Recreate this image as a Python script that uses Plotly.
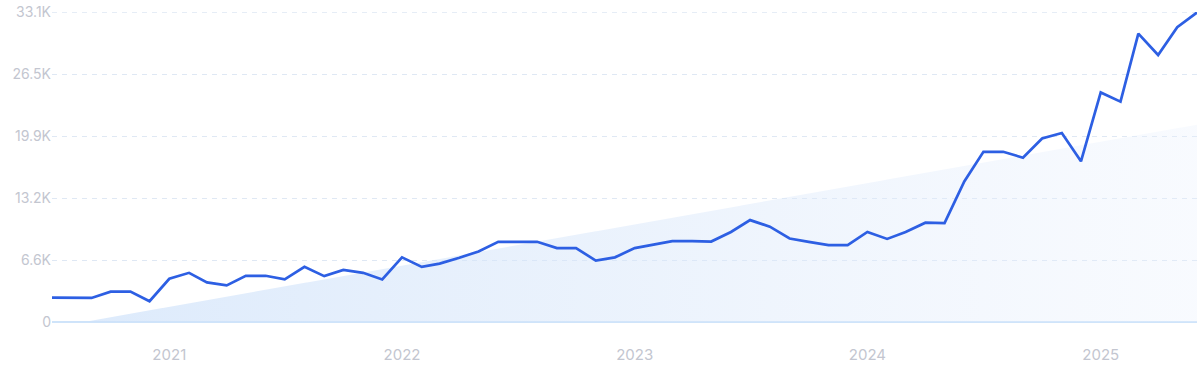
import pandas as pd
import numpy as np
import plotly.graph_objects as go

# Monthly data, Jul 2020 .. Jun 2025
months = pd.date_range("2020-07-01", "2025-06-01", freq="MS")
values = [
    2610, 2610, 2570, 3245, 3245, 2220,            # Jul-Dec 2020
    4620, 5255, 4230, 3910, 4940, 4940,            # Jan-Jun 2021
    4560, 5900, 4900, 5570, 5255, 4550,            # Jul-Dec 2021
    6910, 5890, 6240, 6870, 7540, 8570,            # Jan-Jun 2022
    8570, 8570, 7900, 7900, 6560, 6910,            # Jul-Dec 2022
    7900, 8250, 8640, 8640, 8600, 9620,            # Jan-Jun 2023
    10890, 10190, 8920, 8570, 8220, 8220,          # Jul-Dec 2023
    9620, 8880, 9620, 10610, 10560, 15020,         # Jan-Jun 2024
    18190, 18190, 17560, 19610, 20200, 17170,      # Jul-Dec 2024
    24530, 23550, 30820, 28530, 31510, 33080,      # Jan-Jun 2025
]

# Trend line endpoints (value at first and last month), clipped at zero
trend_start = -600
trend_end = 21080

y_tickvals = [0, 6620, 13240, 19860, 26480, 33100]
y_ticktext = ["0", "6.6K", "13.2K", "19.9K", "26.5K", "33.1K"]
x_tickvals = ["2021-01-01", "2022-01-01", "2023-01-01", "2024-01-01", "2025-01-01"]
x_ticktext = ["2021", "2022", "2023", "2024", "2025"]

GRID = "#dfe8f4"

days = pd.date_range(months[0], months[-1], freq="D")
t = np.linspace(0.0, 1.0, len(days))
trend = np.clip(trend_start + (trend_end - trend_start) * t, 0, None)

fig = go.Figure()
fig.add_trace(go.Scatter(
    x=days, y=trend, mode="lines", line=dict(width=0),
    fill="tozeroy",
    fillgradient=dict(type="horizontal",
                      colorscale=[[0, "rgba(205,225,250,0.7)"],
                                  [0.5, "rgba(215,230,250,0.5)"],
                                  [1, "rgba(232,240,253,0.3)"]]),
    hoverinfo="skip", showlegend=False,
))
fig.add_trace(go.Scatter(
    x=months, y=values, mode="lines",
    line=dict(color="#2d5fe3", width=2.7),
    cliponaxis=False, showlegend=False,
))

# top gridline (plotly hides gridlines lying on the plot edge)
fig.add_shape(type="line", xref="paper", x0=0, x1=1,
              yref="y", y0=y_tickvals[-1], y1=y_tickvals[-1],
              line=dict(color=GRID, width=1, dash="5px,5px"), layer="below")

yfont = dict(family="Inter, Roboto, sans-serif", size=14, color="#c3c6d0")
xfont = dict(family="Inter, Roboto, sans-serif", size=15, color="#c3c6d0")
fig.update_layout(
    width=1200, height=371,
    margin=dict(l=52, r=3, t=9, b=49),
    paper_bgcolor="white", plot_bgcolor="white",
    font=yfont,
    xaxis=dict(
        range=[months[0], months[-1]],
        tickvals=x_tickvals, ticktext=x_ticktext,
        showgrid=False, zeroline=False, showline=False,
        ticks="", ticklen=0, tickfont=xfont, ticklabelstandoff=22,
    ),
    yaxis=dict(
        range=[0, 33130],
        tickvals=y_tickvals, ticktext=y_ticktext,
        showgrid=True, gridcolor=GRID, griddash="5px,5px", gridwidth=1,
        zeroline=True, zerolinecolor="#cfe4fa", zerolinewidth=1.5,
        showline=False, ticks="", ticklen=0, tickfont=yfont,
        ticksuffix="  ",
    ),
)

fig.write_html("out.html", config={"displayModeBar": False},
               post_script="document.body.style.margin='0';")
